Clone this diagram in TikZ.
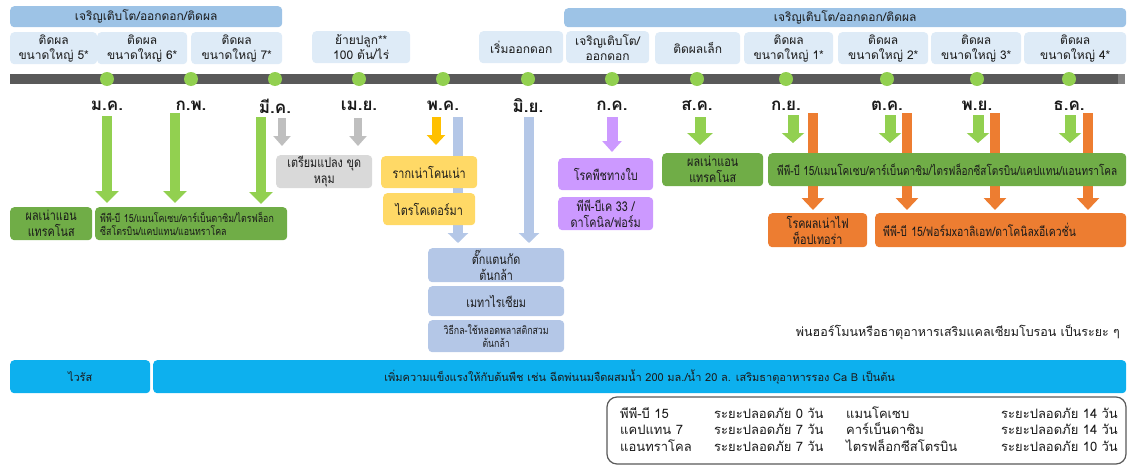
\documentclass[tikz,border=0pt]{standalone}
\usepackage{fontspec}
\setmainfont[Script=Thai]{Loma}
\newfontfamily\thn[Script=Thai,FakeStretch=0.8]{Loma}
\usetikzlibrary{arrows.meta,backgrounds}
\definecolor{hdrc}{HTML}{9DC3E6}
\definecolor{subc}{HTML}{DEEBF7}
\definecolor{linec}{HTML}{595959}
\definecolor{dotc}{HTML}{92D050}
\definecolor{gboxc}{HTML}{70AD47}
\definecolor{grayac}{HTML}{BFBFBF}
\definecolor{grayb}{HTML}{D9D9D9}
\definecolor{yelac}{HTML}{FFC000}
\definecolor{yelb}{HTML}{FFD966}
\definecolor{bluec}{HTML}{B4C7E7}
\definecolor{purc}{HTML}{CC99FF}
\definecolor{orc}{HTML}{ED7D31}
\definecolor{cyanc}{HTML}{0DB0EE}
\definecolor{txtc}{HTML}{1A1A1A}
\newcommand\fz[2]{\fontsize{#1}{#2}\selectfont}
\begin{document}
\begin{tikzpicture}[x=1pt,y=-1pt,
  hdr/.style={fill=hdrc, rounded corners=4pt, anchor=north west, inner sep=0pt, font=\fz{12}{14}, text=txtc},
  sub/.style={fill=subc, rounded corners=4pt, anchor=north west, inner sep=1pt, align=center, font=\fz{12}{15}, text=txtc},
  mon/.style={font=\bfseries\fz{17}{20}, text=txtc, inner sep=0pt},
  cbox/.style={rounded corners=4pt, anchor=north west, align=center, inner sep=1pt, font=\thn\fz{13.5}{16}, text=txtc},
  blk/.style args={#1/#2/#3/#4}{draw=#1, line width=#2, -{Triangle[width=#3,length=#4]}, #1}
]
\useasboundingbox (0,0) rectangle (1128,466);

% headers
\node[hdr, minimum width=272pt, minimum height=21pt] (h1) at (10,6) {เจริญเติบโต/ออกดอก/ติดผล};
\node[hdr, minimum width=562pt, minimum height=19pt] (h2) at (564,8) {เจริญเติบโต/ออกดอก/ติดผล};

% sub boxes
\node[sub, minimum width=87pt, minimum height=32pt] (s1) at (10,32) {ติดผล\\ขนาดใหญ่ 5*};
\node[sub, minimum width=90pt, minimum height=32pt] (s2) at (97,32) {ติดผล\\ขนาดใหญ่ 6*};
\node[sub, minimum width=91pt, minimum height=32pt] (s3) at (191,32) {ติดผล\\ขนาดใหญ่ 7*};
\node[sub, minimum width=98pt, minimum height=32pt] (s4) at (312,31) {ย้ายปลูก**\\100 ต้น/ไร่};
\node[sub, minimum width=84pt, minimum height=32pt] (s5) at (479,31) {เริ่มออกดอก};
\node[sub, minimum width=83pt, minimum height=32pt] (s6) at (566,31) {เจริญเติบโต/\\ออกดอก};
\node[sub, minimum width=85pt, minimum height=32pt] (s7) at (655,32) {ติดผลเล็ก};
\node[sub, minimum width=89pt, minimum height=32pt] (s8) at (744,32) {ติดผล\\ขนาดใหญ่ 1*};
\node[sub, minimum width=90pt, minimum height=32pt] (s9) at (838,32) {ติดผล\\ขนาดใหญ่ 2*};
\node[sub, minimum width=90pt, minimum height=32pt] (s10) at (931,32) {ติดผล\\ขนาดใหญ่ 3*};
\node[sub, minimum width=102pt, minimum height=32pt] (s11) at (1024,32) {ติดผล\\ขนาดใหญ่ 4*};

% timeline
\fill[linec] (10,74) rectangle (1118,84);
\fill[linec!75] (1118,74) rectangle (1125,84);
\foreach \x/\n in {107/1,191/2,275/3,359/4,443/5,528/6,612/7,697/8,786/9,887/10,977/11,1069/12}
  \fill[dotc] (\x,79) circle (7pt);

% months
\node[mon] (m1) at (107,106) {ม.ค.};
\node[mon] (m2) at (191,106) {ก.พ.};
\node[mon] (m3) at (275,106) {มี.ค.};
\node[mon] (m4) at (359,106) {เม.ย.};
\node[mon] (m5) at (443,106) {พ.ค.};
\node[mon] (m6) at (528,106) {มิ.ย.};
\node[mon] (m7) at (612,106) {ก.ค.};
\node[mon] (m8) at (697,106) {ส.ค.};
\node[mon] (m9) at (786,106) {ก.ย.};
\node[mon] (m10) at (887,106) {ต.ค.};
\node[mon] (m11) at (977,106) {พ.ย.};
\node[mon] (m12) at (1069,106) {ธ.ค.};

% boxes
\node[cbox, fill=gboxc, minimum width=82pt, minimum height=33pt] (lg1) at (10,207) {ผลเน่าแอน\\แทรคโนส};
\node[cbox, fill=gboxc, minimum width=192pt, minimum height=33pt, text width=182pt, inner xsep=5pt, align=left, font=\thn\fz{11}{13}] (lg2) at (95,207) {\mbox{พีพี-บี 15/แมนโคเซบ/คาร์เบ็นดาซิม/ไตรฟล็อก}\\ซีสโตรบิน/แคปแทน/แอนทราโคล};
\node[cbox, fill=grayb, minimum width=96pt, minimum height=32pt] (gy) at (276,155) {เตรียมแปลง ขุด\\หลุม};
\node[cbox, fill=yelb, minimum width=96pt, minimum height=32pt] (y1) at (381,156) {รากเน่าโคนเน่า};
\node[cbox, fill=yelb, minimum width=92pt, minimum height=32pt] (y2) at (383,193) {ไตรโคเดอร์มา};
\node[cbox, fill=bluec, minimum width=136pt, minimum height=34pt] (b1) at (428,248) {ตั๊กแตนกัด\\ต้นกล้า};
\node[cbox, fill=bluec, minimum width=136pt, minimum height=30pt] (b2) at (428,286) {เมทาไรเซียม};
\node[cbox, fill=bluec, minimum width=136pt, minimum height=32pt, font=\thn\fz{11}{13}] (b3) at (428,320) {วิธีกล-ใช้หลอดพลาสติกสวม\\ต้นกล้า};
\node[cbox, fill=purc, minimum width=95pt, minimum height=32pt] (p1) at (558,158) {โรคพืชทางใบ};
\node[cbox, fill=purc, minimum width=95pt, minimum height=33pt] (p2) at (558,197) {พีพี-บีเค 33 /\\ดาโคนิล/ฟอร์ม};
\node[cbox, fill=gboxc, minimum width=101pt, minimum height=33pt] (g8) at (662,153) {ผลเน่าแอน\\แทรคโนส};
\node[cbox, fill=gboxc, minimum width=358pt, minimum height=33pt, font=\thn\fz{12.5}{14}] (gr) at (768,153) {พีพี-บี 15/แมนโคเซบ/คาร์เบ็นดาซิม/ไตรฟล็อกซีสโตรบิน/แคปแทน/แอนทราโคล};
\node[cbox, fill=orc, minimum width=99pt, minimum height=34pt] (o1) at (768,213) {โรคผลเน่าไฟ\\ท็อปเทอร่า};
\node[cbox, fill=orc, minimum width=251pt, minimum height=34pt, text width=235pt, inner xsep=8pt, align=left, font=\thn\fz{13}{15}] (o2) at (875,213) {พีพี-บี 15/ฟอร์มxอาลิเอท/ดาโคนิลxอีเควชั่น};

% arrow start points
\coordinate (ga1) at (107,116);
\coordinate (ga2) at (175,113);
\coordinate (ga3) at (261,117);
\coordinate (gra1) at (282,118);
\coordinate (gra2) at (358,118);
\coordinate (ya) at (436,117);
\coordinate (ba1) at (458,117);
\coordinate (ba2) at (529,117);
\coordinate (pa) at (612,117);
\coordinate (g8a) at (700,117);
\coordinate (gr1) at (793,115);
\coordinate (gr2) at (890,115);
\coordinate (gr3) at (978,115);
\coordinate (gr4) at (1070,115);
\coordinate (or1) at (813,113);
\coordinate (or2) at (907,113);
\coordinate (or3) at (995,113);
\coordinate (or4) at (1088,113);

% arrows
\draw[blk=dotc/10pt/23pt/12pt, shorten >=4pt] (ga1) -- (ga1 |- lg2.north);
\draw[blk=dotc/10pt/23pt/12pt, shorten >=4pt] (ga2) -- (ga2 |- lg2.north);
\draw[blk=dotc/10pt/23pt/12pt, shorten >=3pt] (ga3) -- (ga3 |- lg2.north);
\draw[blk=grayac/8pt/17pt/10pt, shorten >=9pt] (gra1) -- (gra1 |- gy.north);
\draw[blk=grayac/8pt/17pt/10pt, shorten >=9pt] (gra2) -- (gra2 |- gy.north);
\draw[blk=yelac/9pt/18pt/10pt, shorten >=11pt] (ya) -- (ya |- y1.north);
\draw[blk=purc/11pt/19pt/11pt, shorten >=6pt] (pa) -- (pa |- p1.north);
\draw[blk=dotc/11pt/25pt/12pt, shorten >=8pt] (g8a) -- (g8a |- g8.north);
\foreach \c in {gr1,gr2,gr3,gr4}
  \draw[blk=dotc/11pt/22pt/10pt, shorten >=10pt] (\c) -- (\c |- gr.north);
\begin{scope}[on background layer]
\draw[blk=bluec/10pt/20pt/10pt, shorten >=5pt] (ba1) -- (ba1 |- b1.north);
\draw[blk=bluec/10pt/20pt/10pt, shorten >=5pt] (ba2) -- (ba2 |- b1.north);
\draw[blk=orc/10pt/22pt/12pt, shorten >=3pt] (or1) -- (or1 |- o1.north);
\draw[blk=orc/10pt/22pt/12pt, shorten >=3pt] (or2) -- (or2 |- o2.north);
\draw[blk=orc/10pt/22pt/12pt, shorten >=3pt] (or3) -- (or3 |- o2.north);
\draw[blk=orc/10pt/22pt/12pt, shorten >=3pt] (or4) -- (or4 |- o2.north);
\end{scope}

% hormone note
\node[anchor=east, inner sep=0pt, font=\fz{12.5}{14}, text=txtc] (note) at (1120,332) {พ่นฮอร์โมนหรือธาตุอาหารเสริมแคลเซียมโบรอน เป็นระยะ ๆ};

% cyan bars
\node[cbox, fill=cyanc, minimum width=140pt, minimum height=33pt, font=\fz{11}{13}] (cy1) at (10,360) {ไวรัส};
\node[cbox, fill=cyanc, minimum width=973pt, minimum height=33pt, font=\fz{11}{13}] (cy2) at (153,360) {เพิ่มความแข็งแรงให้กับต้นพืช เช่น ฉีดพ่นนมจืดผสมน้ำ 200 มล./น้ำ 20 ล. เสริมธาตุอาหารรอง Ca B เป็นต้น};

% safety box
\draw[rounded corners=10pt, line width=1.2pt, draw=linec, fill=white] (607,397) rectangle (1126,464);
\node[anchor=base west, inner sep=0pt, font=\fz{13}{16}, text=txtc] (safe) at (620,418)
  {\begin{tabular}[t]{@{}p{94pt}@{}p{132pt}@{}p{155pt}@{}l@{}}
   พีพี-บี 15 & ระยะปลอดภัย 0 วัน & แมนโคเซบ & ระยะปลอดภัย 14 วัน\\
   แคปแทน 7 & ระยะปลอดภัย 7 วัน & คาร์เบ็นดาซิม & ระยะปลอดภัย 14 วัน\\
   แอนทราโคล & ระยะปลอดภัย 7 วัน & ไตรฟล็อกซีสโตรบิน & ระยะปลอดภัย 10 วัน
   \end{tabular}};
\end{tikzpicture}
\end{document}
